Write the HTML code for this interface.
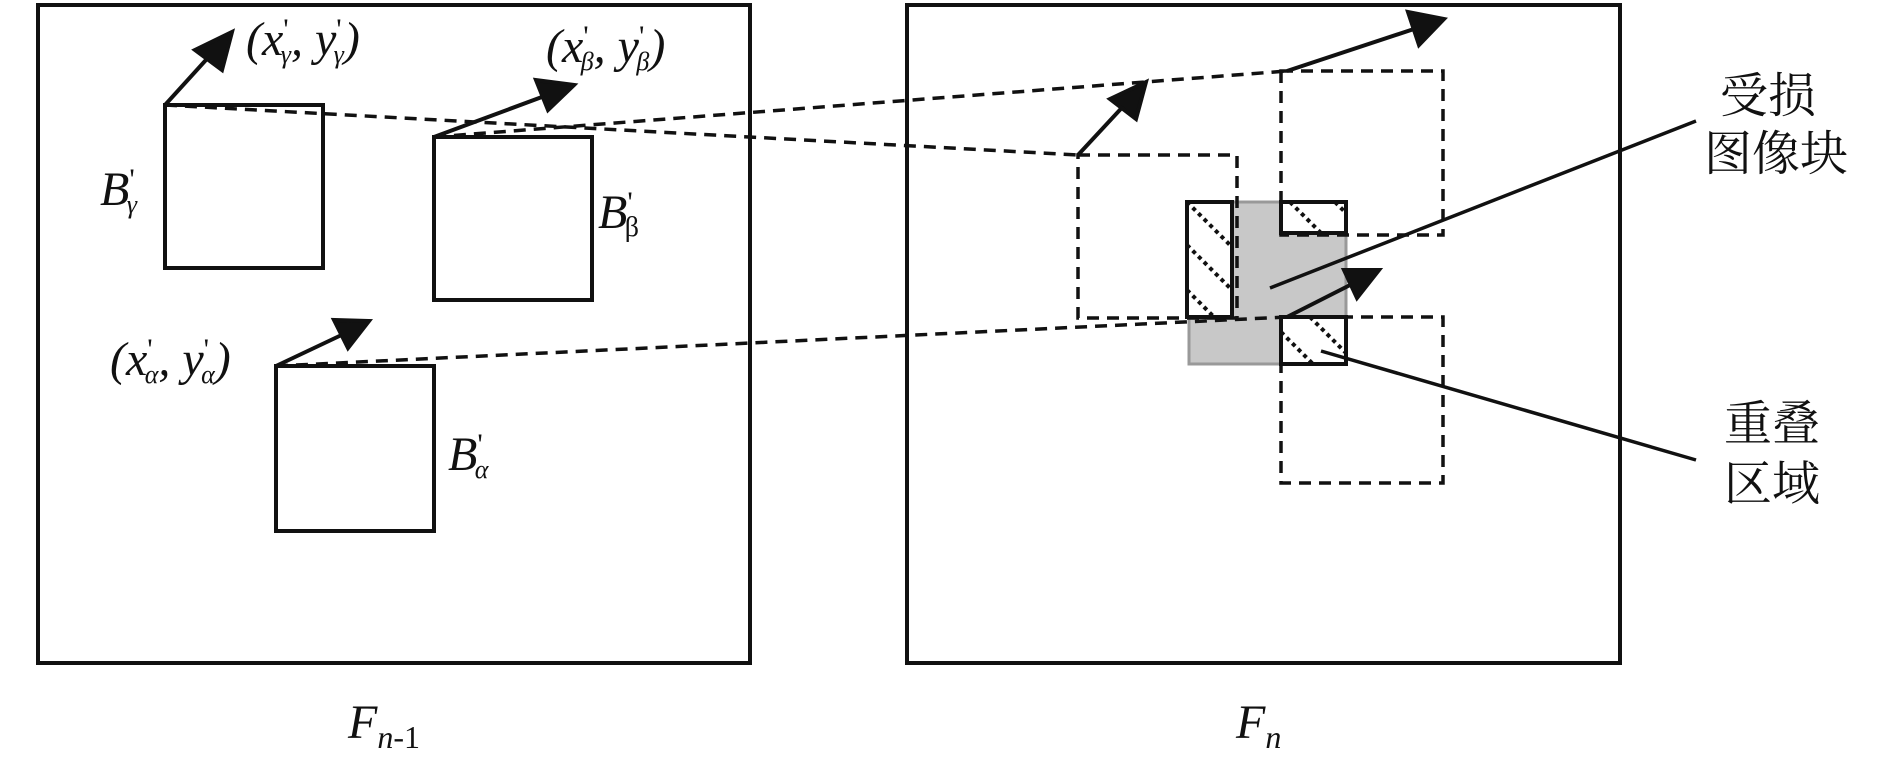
<!DOCTYPE html>
<html><head><meta charset="utf-8"><style>
html,body{margin:0;padding:0;background:#fff;}
svg{display:block;}
.t{font-family:"Liberation Serif",serif;font-style:italic;fill:#111;}
.c{font-family:"Liberation Serif","Noto Serif CJK SC",serif;fill:#111;font-size:48px;}
</style></head><body>
<svg width="1890" height="762" viewBox="0 0 1890 762" xmlns="http://www.w3.org/2000/svg">
<defs>
<marker id="ah" markerWidth="10" markerHeight="10" refX="8" refY="5" orient="auto" markerUnits="userSpaceOnUse" viewBox="0 0 10 10">
</marker>
<clipPath id="c1"><rect x="1187" y="202" width="45" height="115"/></clipPath>
<clipPath id="c2"><rect x="1281" y="202" width="65" height="31"/></clipPath>
<clipPath id="c3"><rect x="1281" y="317" width="65" height="47"/></clipPath>
</defs>
<g fill="none" stroke="#111" stroke-width="4">
<rect x="38" y="5" width="712" height="658"/>
<rect x="907" y="5" width="713" height="658"/>
<rect x="165" y="105" width="158" height="163"/>
<rect x="434" y="137" width="158" height="163"/>
<rect x="276" y="366" width="158" height="165"/>
</g>
<!-- gray damaged block -->
<rect x="1189" y="202" width="157" height="162" fill="#c8c8c8" stroke="#999" stroke-width="3"/>
<!-- dashed -->
<g fill="none" stroke="#111" stroke-width="3.5" stroke-dasharray="12,8">
<line x1="165" y1="105" x2="1078" y2="155"/>
<line x1="434" y1="137" x2="1287" y2="71"/>
<line x1="276" y1="366" x2="1287" y2="317"/>
<rect x="1078" y="155" width="159" height="163"/>
<rect x="1281" y="71" width="162" height="164"/>
<rect x="1281" y="317" width="162" height="166"/>
</g>
<!-- hatched rects -->
<g fill="#fff" stroke="none">
<rect x="1187" y="202" width="45" height="115"/>
<rect x="1281" y="202" width="65" height="31"/>
<rect x="1281" y="317" width="65" height="47"/>
</g>
<g stroke="#111" stroke-width="4" stroke-dasharray="4,4">
<g clip-path="url(#c1)">
<line x1="1187" y1="202" x2="1287" y2="302"/>
<line x1="1187" y1="245" x2="1287" y2="345"/>
<line x1="1187" y1="290" x2="1287" y2="390"/>
</g>
<g clip-path="url(#c2)">
<line x1="1290" y1="202" x2="1340" y2="252"/>
<line x1="1335" y1="202" x2="1385" y2="252"/>
</g>
<g clip-path="url(#c3)">
<line x1="1310" y1="317" x2="1360" y2="367"/>
<line x1="1281" y1="332" x2="1331" y2="382"/>
</g>
</g>
<g fill="none" stroke="#111" stroke-width="4">
<rect x="1187" y="202" width="45" height="115"/>
<rect x="1281" y="202" width="65" height="31"/>
<rect x="1281" y="317" width="65" height="47"/>
</g>
<!-- leader lines -->
<line x1="1270" y1="288" x2="1696" y2="121" stroke="#111" stroke-width="3.5"/>
<line x1="1321" y1="351" x2="1696" y2="460" stroke="#111" stroke-width="3.5"/>
<!-- arrows -->
<g stroke="#111" stroke-width="4" fill="#111">
<line x1="165" y1="105" x2="215" y2="50"/><polygon points="232,32 222,70 195,50"/>
<line x1="434" y1="137" x2="550" y2="94"/><polygon points="574,85 548,110 536,80"/>
<line x1="276" y1="366" x2="350" y2="331"/><polygon points="369,321 348,348 334,320"/>
<line x1="1078" y1="155" x2="1130" y2="99"/><polygon points="1146,82 1136,119 1110,99"/>
<line x1="1287" y1="71" x2="1420" y2="27"/><polygon points="1444,19 1419,45 1408,12"/>
<line x1="1287" y1="317" x2="1360" y2="280"/><polygon points="1379,270 1357,298 1344,270"/>
</g>
<!-- labels -->
<g class="t" font-size="48">
<text x="246" y="55">(x<tspan font-size="30" dy="-16" font-style="normal">'</tspan><tspan font-size="26" dy="24" dx="-8">γ</tspan><tspan dy="-8">, y</tspan><tspan font-size="30" dy="-16" font-style="normal">'</tspan><tspan font-size="26" dy="24" dx="-8">γ</tspan><tspan dy="-8">)</tspan></text>
<text x="546" y="62">(x<tspan font-size="30" dy="-16" font-style="normal">'</tspan><tspan font-size="26" dy="24" dx="-8">β</tspan><tspan dy="-8">, y</tspan><tspan font-size="30" dy="-16" font-style="normal">'</tspan><tspan font-size="26" dy="24" dx="-8">β</tspan><tspan dy="-8">)</tspan></text>
<text x="110" y="375">(x<tspan font-size="30" dy="-16" font-style="normal">'</tspan><tspan font-size="26" dy="24" dx="-8">α</tspan><tspan dy="-8">, y</tspan><tspan font-size="30" dy="-16" font-style="normal">'</tspan><tspan font-size="26" dy="24" dx="-8">α</tspan><tspan dy="-8">)</tspan></text>
<text x="100" y="205">B<tspan font-size="30" dy="-16" font-style="normal">'</tspan><tspan font-size="26" dy="24" dx="-8">γ</tspan></text>
<text x="598" y="228">B<tspan font-size="30" dy="-16" font-style="normal">'</tspan><tspan font-size="28" dy="24" dx="-8" font-style="normal">β</tspan></text>
<text x="448" y="470">B<tspan font-size="30" dy="-16" font-style="normal">'</tspan><tspan font-size="26" dy="24" dx="-8">α</tspan></text>
<text x="348" y="738">F<tspan font-size="32" dy="10">n</tspan><tspan font-size="32" font-style="normal">-1</tspan></text>
<text x="1236" y="738">F<tspan font-size="32" dy="10">n</tspan></text>
</g>
<g class="c" text-anchor="middle">
<text x="1768" y="112">受损</text>
<text x="1776" y="170">图像块</text>
<text x="1772" y="440">重叠</text>
<text x="1772" y="500">区域</text>
</g>
</svg>
</body></html>
